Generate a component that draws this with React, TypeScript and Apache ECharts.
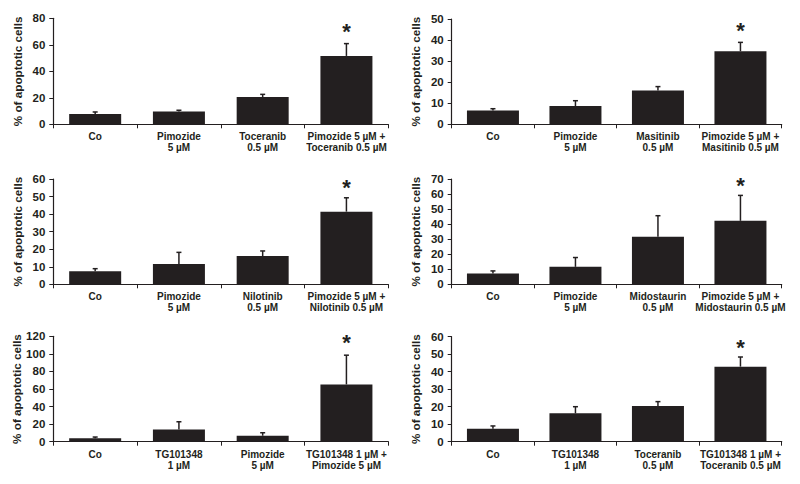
import React, { useEffect, useRef } from "react";
import * as echarts from "echarts";

// ---- data ----
const cats1 = ["Co", "Pimozide\n5 µM", "Toceranib\n0.5 µM", "Pimozide 5 µM +\nToceranib 0.5 µM"];
const vals1 = [7.8, 9.6, 20.6, 51.6];
const errs1 = [1.5, 1.0, 2.0, 9.3];

const cats2 = ["Co", "Pimozide\n5 µM", "Masitinib\n0.5 µM", "Pimozide 5 µM +\nMasitinib 0.5 µM"];
const vals2 = [6.5, 8.7, 16.0, 34.7];
const errs2 = [0.9, 2.5, 1.9, 4.2];

const cats3 = ["Co", "Pimozide\n5 µM", "Nilotinib\n0.5 µM", "Pimozide 5 µM +\nNilotinib 0.5 µM"];
const vals3 = [7.4, 11.6, 16.1, 41.4];
const errs3 = [1.5, 6.6, 2.9, 7.9];

const cats4 = ["Co", "Pimozide\n5 µM", "Midostaurin\n0.5 µM", "Pimozide 5 µM +\nMidostaurin 0.5 µM"];
const vals4 = [7.1, 11.6, 31.6, 42.2];
const errs4 = [1.8, 6.2, 14.0, 16.9];

const cats5 = ["Co", "TG101348\n1 µM", "Pimozide\n5 µM", "TG101348 1 µM +\nPimozide 5 µM"];
const vals5 = [3.8, 14.0, 6.8, 65.2];
const errs5 = [1.5, 8.7, 3.4, 33.3];

const cats6 = ["Co", "TG101348\n1 µM", "Toceranib\n0.5 µM", "TG101348 1 µM +\nToceranib 0.5 µM"];
const vals6 = [7.4, 16.2, 20.4, 42.9];
const errs6 = [1.6, 3.8, 2.5, 5.5];

const yMax = [80, 50, 60, 70, 120, 60];
const yInterval = [20, 10, 10, 10, 20, 10];
const starIndex = [3, 3, 3, 3, 3, 3];
const starValue = [73.7, 47.0, 57.9, 69.3, 118.5, 56.8];
const yName = "% of apoptotic cells";

const panels = [
  { cats: cats1, vals: vals1, errs: errs1 },
  { cats: cats2, vals: vals2, errs: errs2 },
  { cats: cats3, vals: vals3, errs: errs3 },
  { cats: cats4, vals: vals4, errs: errs4 },
  { cats: cats5, vals: vals5, errs: errs5 },
  { cats: cats6, vals: vals6, errs: errs6 },
];

// ---- layout / style ----
const FONT = '"Liberation Sans", Arial, sans-serif';
const INK = "#231f20";
const gridBoxes = [
  { left: 53.3, top: 18.3, width: 335, height: 106 },
  { left: 451.7, top: 19, width: 330, height: 105.3 },
  { left: 53.3, top: 179, width: 335, height: 105.3 },
  { left: 451.7, top: 179, width: 330, height: 105.3 },
  { left: 53.3, top: 336.3, width: 335, height: 105.4 },
  { left: 451.7, top: 336.7, width: 330, height: 105 },
];

export default function App() {
  const ref = useRef<HTMLDivElement>(null);
  useEffect(() => {
    if (!ref.current) return;
    const chart = echarts.init(ref.current, null, { renderer: "svg" });

    const grid: any[] = [];
    const xAxis: any[] = [];
    const yAxis: any[] = [];
    const series: any[] = [];

    panels.forEach((p, i) => {
      grid.push({ ...gridBoxes[i], containLabel: false });
      xAxis.push({
        type: "category",
        gridIndex: i,
        data: p.cats,
        boundaryGap: true,
        axisLine: { show: true, lineStyle: { color: INK, width: 1.2 } },
        axisTick: { show: true, length: 4, inside: false, lineStyle: { color: INK, width: 1 } },
        axisLabel: {
          interval: 0,
          margin: 7,
          color: INK,
          fontFamily: FONT,
          fontWeight: "bold",
          fontSize: 10,
          lineHeight: 11,
        },
        splitLine: { show: false },
      });
      yAxis.push({
        type: "value",
        gridIndex: i,
        min: 0,
        max: yMax[i],
        interval: yInterval[i],
        name: yName,
        nameLocation: "middle",
        nameGap: 30,
        nameTextStyle: { color: INK, fontFamily: FONT, fontWeight: "bold", fontSize: 11.7 },
        axisLine: { show: true, lineStyle: { color: INK, width: 1.2 } },
        axisTick: { show: true, length: 4, inside: false, lineStyle: { color: INK, width: 1 } },
        axisLabel: {
          margin: 8,
          color: INK,
          fontFamily: FONT,
          fontWeight: "bold",
          fontSize: 11.5,
        },
        splitLine: { show: false },
      });
      series.push({
        type: "bar",
        xAxisIndex: i,
        yAxisIndex: i,
        data: p.vals,
        barWidth: 52,
        itemStyle: { color: INK },
        z: 2,
      });
      series.push({
        type: "custom",
        xAxisIndex: i,
        yAxisIndex: i,
        data: p.vals.map((v, j) => [j, v, p.errs[j]]),
        z: 3,
        renderItem: (params: any, api: any) => {
          const x = api.value(0);
          const v = api.value(1);
          const e = api.value(2);
          const base = api.coord([x, v]);
          const top = api.coord([x, v + e]);
          const hw = 2.5;
          const st = { stroke: INK, lineWidth: 1.5 };
          return {
            type: "group",
            children: [
              { type: "line", shape: { x1: base[0], y1: base[1], x2: top[0], y2: top[1] }, style: st },
              { type: "line", shape: { x1: top[0] - hw, y1: top[1], x2: top[0] + hw, y2: top[1] }, style: st },
            ],
          };
        },
      });
      series.push({
        type: "custom",
        xAxisIndex: i,
        yAxisIndex: i,
        data: [[starIndex[i], starValue[i]]],
        z: 4,
        clip: false,
        renderItem: (params: any, api: any) => {
          const pt = api.coord([api.value(0), api.value(1)]);
          return {
            type: "text",
            x: pt[0],
            y: pt[1] + 5,
            style: {
              text: "*",
              fill: INK,
              font: `bold 22px ${FONT}`,
              align: "center",
              verticalAlign: "middle",
            },
          };
        },
      });
    });

    chart.setOption({
      animation: false,
      backgroundColor: "#ffffff",
      grid,
      xAxis,
      yAxis,
      series,
    });
    return () => chart.dispose();
  }, []);

  return (
    <div
      ref={ref}
      style={{ position: "absolute", left: 0, top: 0, width: 800, height: 484, background: "#fff" }}
    />
  );
}
